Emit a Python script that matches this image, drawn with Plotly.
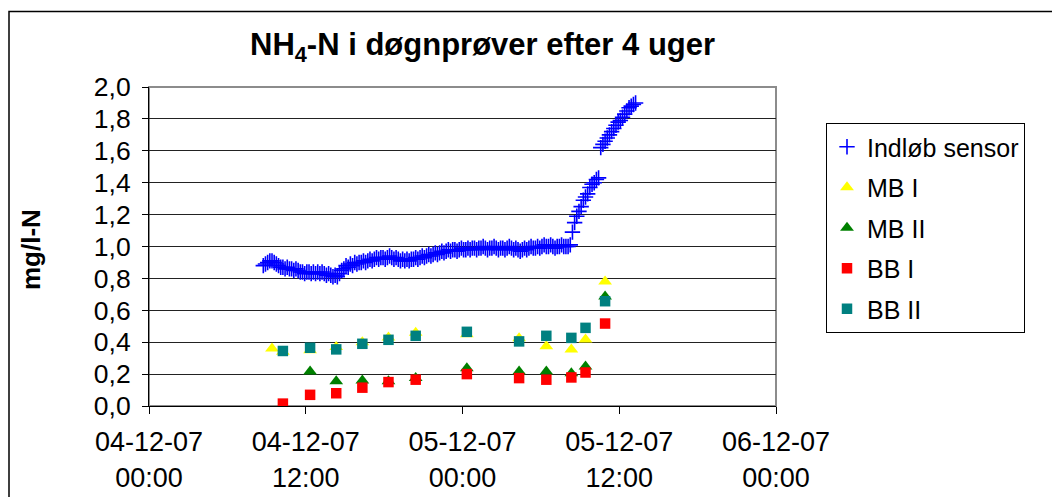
import pandas as pd
import plotly.graph_objects as go

# ---------------- data ----------------
sensor_start = "2007-12-04 08:45"   # sensor logged every 10 minutes
sensor_vals = [
    0.88, 0.89, 0.90, 0.91, 0.91, 0.90, 0.89, 0.88, 0.87, 0.87,
    0.86, 0.87, 0.86, 0.86, 0.85, 0.86, 0.85, 0.84, 0.84, 0.83,
    0.84, 0.84, 0.83, 0.84, 0.83, 0.84, 0.83, 0.84, 0.83, 0.82,
    0.83, 0.82, 0.81, 0.82, 0.81, 0.83, 0.85, 0.86, 0.88, 0.87,
    0.89, 0.88, 0.90, 0.89, 0.90, 0.90, 0.91, 0.90, 0.91, 0.92,
    0.91, 0.92, 0.93, 0.92, 0.93, 0.93, 0.92, 0.93, 0.94, 0.93,
    0.92, 0.93, 0.92, 0.91, 0.92, 0.91, 0.92, 0.91, 0.92, 0.92,
    0.93, 0.92, 0.93, 0.94, 0.93, 0.94, 0.95, 0.94, 0.95, 0.96,
    0.95, 0.96, 0.97, 0.96, 0.97, 0.98, 0.97, 0.98, 0.98, 0.97,
    0.98, 0.99, 0.98, 0.98, 0.99, 0.98, 0.99, 0.99, 0.98, 0.99,
    0.99, 1.00, 0.99, 0.98, 0.99, 0.99, 1.00, 0.99, 0.98, 0.99,
    0.99, 0.98, 0.99, 1.00, 0.99, 0.98, 0.99, 0.98, 0.97, 0.98,
    0.99, 0.98, 0.99, 1.00, 0.99, 0.99, 1.00, 0.99, 1.00, 1.01,
    1.00, 1.00, 1.01, 1.00, 0.99, 1.00, 1.00, 1.01, 1.00, 1.00,
    1.00, 1.01, 1.09, 1.15, 1.19, 1.22, 1.25, 1.29, 1.31, 1.33,
    1.37, 1.39, 1.40, 1.42, 1.43, 1.62, 1.64, 1.66, 1.68, 1.70,
    1.72, 1.74, 1.76, 1.78, 1.79, 1.81, 1.83, 1.85, 1.87, 1.88,
    1.89, 1.90,
]

bb_times = [
    "2007-12-04 10:15", "2007-12-04 12:20", "2007-12-04 14:20", "2007-12-04 16:20",
    "2007-12-04 18:20", "2007-12-04 20:25", "2007-12-05 00:20", "2007-12-05 04:20",
    "2007-12-05 06:25", "2007-12-05 08:20", "2007-12-05 09:25", "2007-12-05 10:55",
]
mb1_times = ["2007-12-04 09:25"] + bb_times
mb2_times = bb_times

mb1_vals = [0.36, 0.34, 0.35, 0.37, 0.40, 0.43, 0.46, 0.45, 0.425, 0.375, 0.355, 0.417, 0.78]
mb2_vals = [0.005, 0.216, 0.155, 0.16, 0.155, 0.175, 0.237, 0.216, 0.216, 0.205, 0.247, 0.686]
bb1_vals = [0.015, 0.07, 0.08, 0.115, 0.15, 0.165, 0.20, 0.175, 0.165, 0.179, 0.21, 0.517]
bb2_vals = [0.345, 0.365, 0.355, 0.39, 0.415, 0.44, 0.465, 0.405, 0.44, 0.427, 0.49, 0.657]

x_tickvals = ["2007-12-04 00:00", "2007-12-04 12:00", "2007-12-05 00:00",
              "2007-12-05 12:00", "2007-12-06 00:00"]
x_ticktext = ["04-12-07<br>00:00", "04-12-07<br>12:00", "05-12-07<br>00:00",
              "05-12-07<br>12:00", "06-12-07<br>00:00"]

title_text = "<b>NH<sub>4</sub>-N i døgnprøver efter 4 uger</b>"
y_title = "<b>mg/l-N</b>"

# ---------------- figure ----------------
FONT = "Arial, 'Liberation Sans', sans-serif"
sensor_times = pd.date_range(sensor_start, periods=len(sensor_vals), freq="10min")

fig = go.Figure()
fig.add_trace(go.Scatter(
    x=sensor_times, y=sensor_vals, mode="markers", name="Indløb sensor",
    legendgroup="a",
    marker=dict(symbol="cross-thin", size=11, line=dict(color="#0000FF", width=1.6), color="#0000FF"),
))
fig.add_trace(go.Scatter(
    x=pd.to_datetime(mb1_times), y=mb1_vals, mode="markers", name="MB I", legendgroup="b",
    marker=dict(symbol="triangle-up", size=12, color="#FFFF00", line=dict(width=0)),
))
fig.add_trace(go.Scatter(
    x=pd.to_datetime(mb2_times), y=mb2_vals, mode="markers", name="MB II", legendgroup="c",
    marker=dict(symbol="triangle-up", size=12, color="#008000", line=dict(width=0)),
))
fig.add_trace(go.Scatter(
    x=pd.to_datetime(bb_times), y=bb1_vals, mode="markers", name="BB I", legendgroup="d",
    marker=dict(symbol="square", size=10.5, color="#FF0000", line=dict(width=0)),
))
fig.add_trace(go.Scatter(
    x=pd.to_datetime(bb_times), y=bb2_vals, mode="markers", name="BB II", legendgroup="e",
    marker=dict(symbol="square", size=10.5, color="#008080", line=dict(width=0)),
))

OFF = 8  # page body margin in the browser
W, H = 1060 - OFF, 497 - OFF
L, R, T, B = 149 - OFF, 776 - OFF, 87 - OFF, 406 - OFF
pw, ph = R - L, B - T

def px_x(x):
    return (x - OFF - L) / pw

def px_y(y):
    return (B - (y - OFF)) / ph

fig.update_layout(
    width=W, height=H, autosize=False,
    margin=dict(l=L, r=W - R, t=T, b=H - B, pad=0, autoexpand=False),
    paper_bgcolor="white", plot_bgcolor="white",
    font=dict(family=FONT, size=26, color="black"),
    separators=",.",
    showlegend=True,
    legend=dict(
        x=px_x(826), y=px_y(123), xanchor="left", yanchor="top",
        bordercolor="black", borderwidth=1, bgcolor="white",
        font=dict(family=FONT, size=25, color="black"),
        tracegroupgap=5,
    ),
    xaxis=dict(
        type="date", automargin=False,
        range=["2007-12-04 00:00", "2007-12-06 00:00"],
        tickvals=pd.to_datetime(x_tickvals), ticktext=x_ticktext,
        ticks="outside", ticklen=7, tickcolor="black", tickwidth=1,
        showline=True, linecolor="black", linewidth=1,
        showgrid=False, zeroline=False,
        tickfont=dict(family=FONT, size=27, color="black"),
        ticklabelstandoff=5,
    ),
    yaxis=dict(
        automargin=False,
        range=[0, 2.0], tick0=0, dtick=0.2, tickformat=".1f",
        ticks="outside", ticklen=6, tickcolor="black", tickwidth=1,
        showline=True, linecolor="black", linewidth=1,
        showgrid=True, gridcolor="#222222", gridwidth=1, zeroline=False,
        tickfont=dict(family=FONT, size=26.5, color="black"),
        ticklabelstandoff=6,
    ),
    shapes=[
        # plot area frame (grey)
        dict(type="rect", xref="paper", yref="paper", x0=0, x1=1, y0=0, y1=1,
             line=dict(color="#8C8C8C", width=2), layer="below"),
        # outer chart border
        dict(type="rect", xref="paper", yref="paper",
             x0=px_x(9), x1=px_x(1100), y0=px_y(540), y1=px_y(11.5),
             line=dict(color="black", width=1.5), layer="below"),
    ],
    annotations=[
        dict(text=title_text, xref="paper", yref="paper",
             x=px_x(482), y=px_y(47), xanchor="center", yanchor="middle",
             showarrow=False, font=dict(family=FONT, size=31, color="black")),
        dict(text=y_title, xref="paper", yref="paper",
             x=px_x(31), y=px_y(250), xanchor="center", yanchor="middle",
             textangle=-90, showarrow=False,
             font=dict(family=FONT, size=26, color="black")),
    ],
)

fig.write_html("out.html")
